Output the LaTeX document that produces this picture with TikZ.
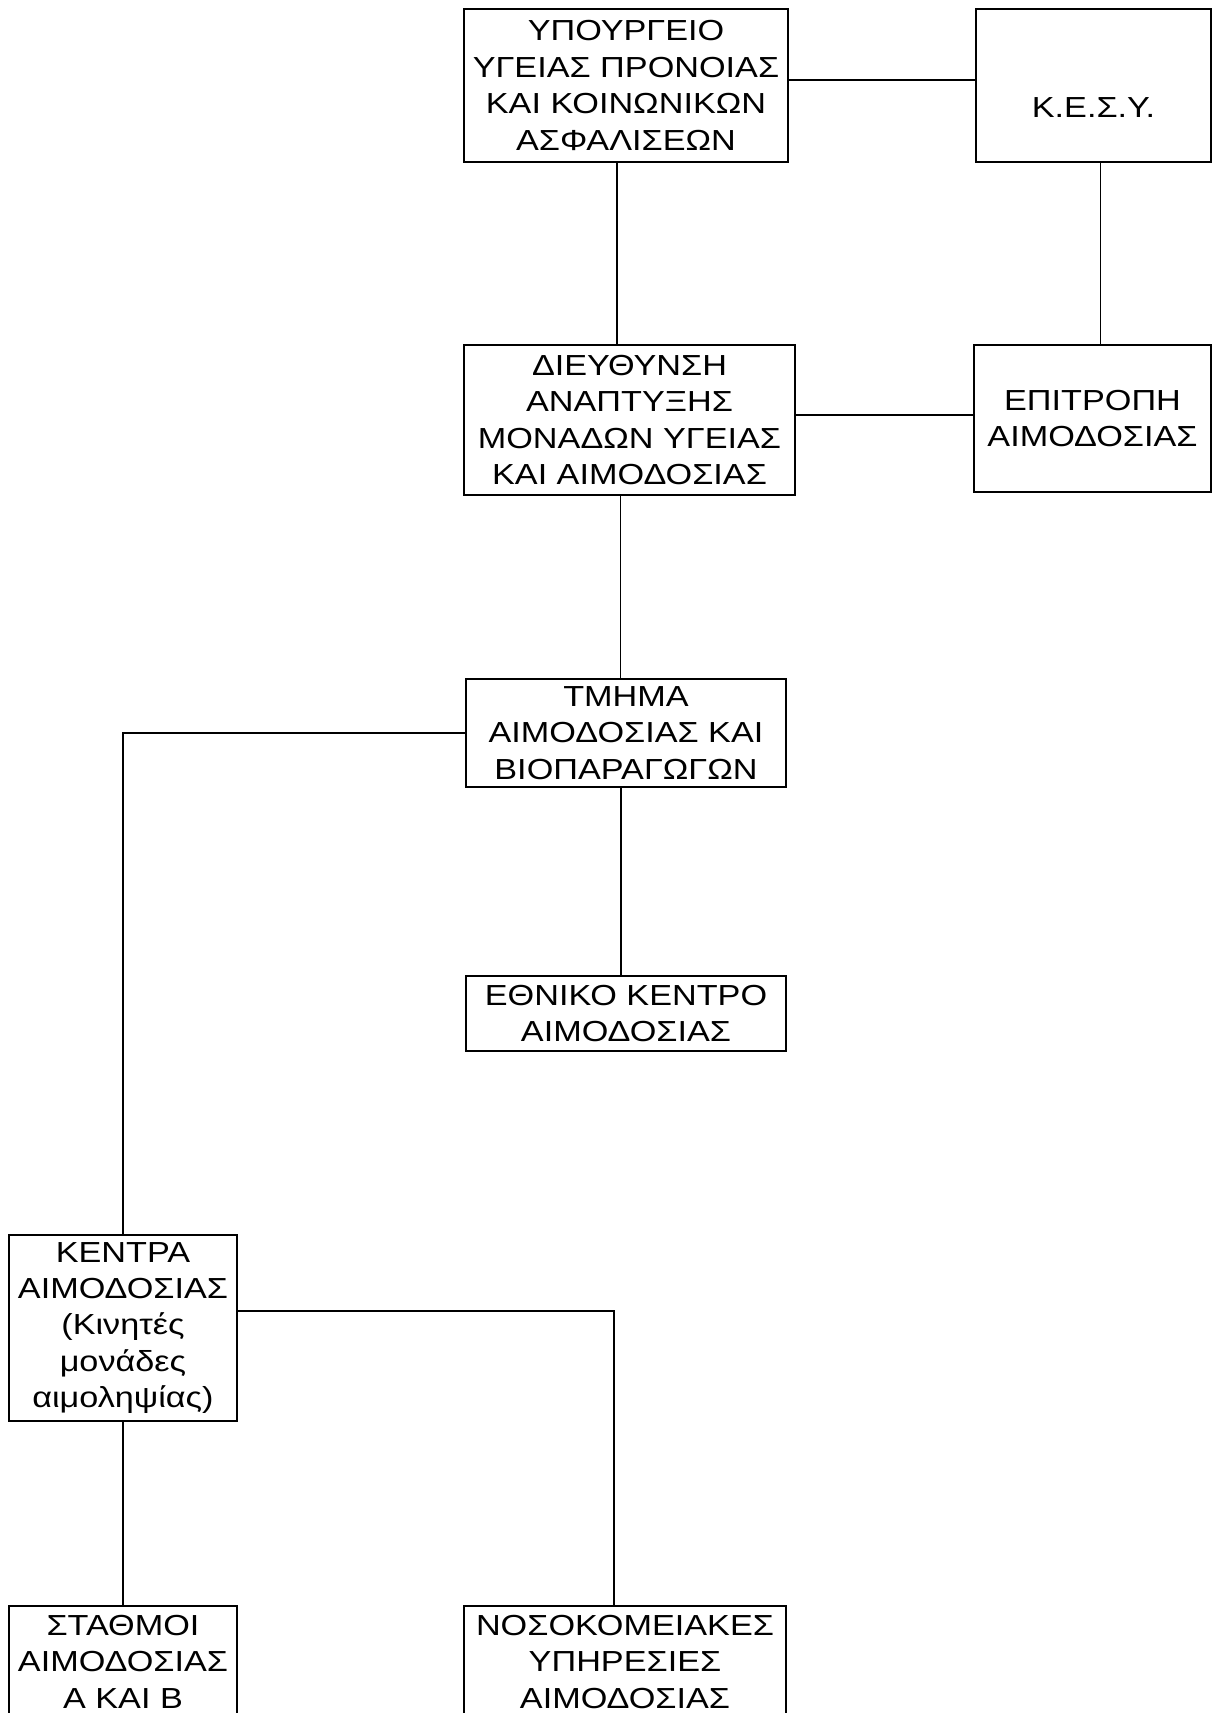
\documentclass[tikz,border=0pt]{standalone}
\usepackage{fontspec}
\setmainfont{Liberation Sans}[FakeStretch=1.18]

\tikzset{
  orgbox/.style={draw, line width=0.8pt, align=center, inner xsep=2pt,
    font=\fontsize{14.5}{18.2}\selectfont},
  orgline/.style={line width=0.8pt}
}

\begin{document}
\begin{tikzpicture}[x=0.5pt, y=-0.5pt]
        % Page frame
        \useasboundingbox (0,0) rectangle (1212,1713);

        % Top level
        \node[orgbox, minimum width=162pt, minimum height=76.5pt] (min) at (626,85.5)
            {ΥΠΟΥΡΓΕΙΟ\\ΥΓΕΙΑΣ ΠΡΟΝΟΙΑΣ\\ΚΑΙ ΚΟΙΝΩΝΙΚΩΝ\\ΑΣΦΑΛΙΣΕΩΝ};
        \node[orgbox, minimum width=117.5pt, minimum height=76.5pt, text height=32pt] (kesy) at (1093.5,85.5)
            {Κ.Ε.Σ.Υ.};

        % Second level
        \node[orgbox, minimum width=165.5pt, minimum height=75pt] (dir) at (629.5,420)
            {ΔΙΕΥΘΥΝΣΗ\\ΑΝΑΠΤΥΞΗΣ\\ΜΟΝΑΔΩΝ ΥΓΕΙΑΣ\\ΚΑΙ ΑΙΜΟΔΟΣΙΑΣ};
        \node[orgbox, minimum width=118.5pt, minimum height=73.5pt] (epit) at (1092.5,418.5)
            {ΕΠΙΤΡΟΠΗ\\ΑΙΜΟΔΟΣΙΑΣ};

        % Department
        \node[orgbox, minimum width=160pt, minimum height=54pt] (tmima) at (626,733)
            {ΤΜΗΜΑ\\ΑΙΜΟΔΟΣΙΑΣ ΚΑΙ\\ΒΙΟΠΑΡΑΓΩΓΩΝ};
        \node[orgbox, minimum width=160pt, minimum height=37.5pt] (ethn) at (626,1013.5)
            {ΕΘΝΙΚΟ ΚΕΝΤΡΟ\\ΑΙΜΟΔΟΣΙΑΣ};

        % Blood centres
        \node[orgbox, minimum width=114pt, minimum height=93pt] (kentra) at (123,1328)
            {ΚΕΝΤΡΑ\\ΑΙΜΟΔΟΣΙΑΣ\\(Κινητές\\μονάδες\\αιμοληψίας)};
        \node[orgbox, anchor=north, minimum width=114pt, inner ysep=4.75pt, text depth=30pt] (stath) at (123,1605)
            {ΣΤΑΘΜΟΙ\\ΑΙΜΟΔΟΣΙΑΣ\\Α ΚΑΙ Β};
        \node[orgbox, anchor=north, minimum width=161pt, inner ysep=4.75pt, text depth=30pt] (nosok) at (625,1605)
            {ΝΟΣΟΚΟΜΕΙΑΚΕΣ\\ΥΠΗΡΕΣΙΕΣ\\ΑΙΜΟΔΟΣΙΑΣ};

        % Connectors
        \draw[orgline] ([yshift=2.75pt]min.east) -- ([yshift=2.75pt]kesy.west);
        \draw[orgline] ([xshift=-4.5pt]min.south) -- ([xshift=-4.5pt]min.south |- dir.north);
        \draw[orgline] ([xshift=3.5pt]kesy.south) -- ([xshift=3.5pt]kesy.south |- epit.north);
        \draw[orgline] ([yshift=2.5pt]dir.east) -- ([yshift=2.5pt]dir.east -| epit.west);
        \draw[orgline] ([xshift=-4.5pt]dir.south) -- ([xshift=-4.5pt]dir.south |- tmima.north);
        \draw[orgline] ([xshift=-2.5pt]tmima.south) -- ([xshift=-2.5pt]tmima.south |- ethn.north);
        \draw[orgline] (tmima.west) -| (kentra.north);
        \draw[orgline] ([yshift=8.5pt]kentra.east) -| ([xshift=-5.5pt]nosok.north);
        \draw[orgline] (kentra.south) -- (stath.north);
    \end{tikzpicture}
\end{document}
